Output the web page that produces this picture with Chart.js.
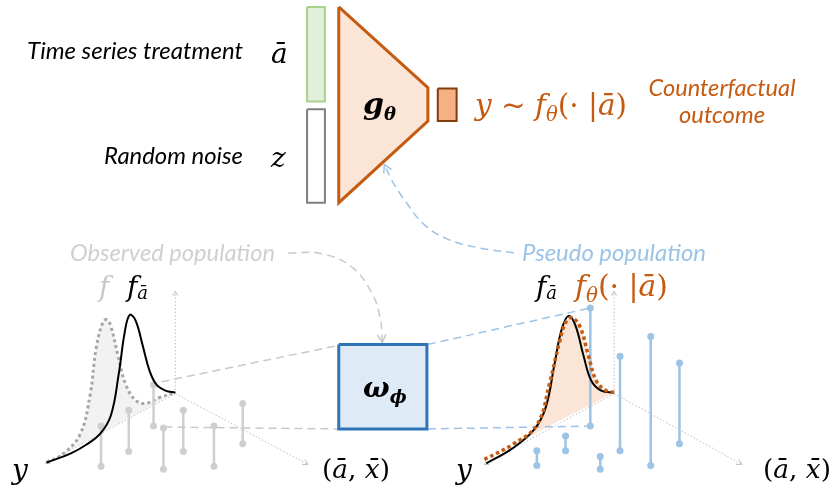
<!DOCTYPE html>
<html>
<head>
<meta charset="utf-8">
<script src="https://cdn.jsdelivr.net/npm/chart.js@4.4.1/dist/chart.umd.min.js"></script>
<style>
  html, body { margin: 0; padding: 0; background: #fff; }
  canvas { display: block; }
</style>
</head>
<body>
<canvas id="diagram" width="834" height="493"></canvas>
<script>
// colours
const ORANGE = '#c55a11';
const LIGHT_GRAY = '#c9c9c9';
const LIGHT_BLUE = '#9dc3e6';

// stems of the observed population (left) and pseudo population (right)
const leftStemX = [98, 126, 151, 161, 181, 212, 241];
const leftStemTop = [429, 413, 387, 431, 413, 429, 406];
const leftStemBottom = [470, 455, 429, 473, 455, 470, 447];

const rightStemX = [538, 567, 592, 602, 622, 653, 682];
const rightStemTop = [454, 439, 309, 460, 358, 338, 365];
const rightStemBottom = [469, 454, 429, 473, 454, 469, 447];

// density curves
const observedDensity = [[43, 466], [60, 457], [77, 437], [87, 397], [93, 350], [100, 323], [104, 321], [108, 328], [115, 357], [123, 387], [133, 403], [143, 406], [157, 400], [173, 395]];
const leftTargetDensity = [[43, 466], [67, 457], [83, 448], [97, 437], [108, 418], [116, 375], [122, 333], [127, 316], [133, 322], [140, 347], [147, 373], [154, 387], [163, 393], [173, 395]];
const rightTargetDensity = [[487, 467], [513, 452], [535, 433], [547, 410], [556, 365], [563, 331], [570, 317], [577, 327], [585, 357], [593, 383], [603, 393], [616, 395]];
const generatedDensity = [[485, 463], [513, 448], [538, 428], [551, 385], [561, 343], [568, 322], [574, 319], [582, 329], [590, 357], [598, 383], [608, 393], [616, 395]];

// boxes
const treatmentBar = [[306, 3], [324, 3], [324, 99], [306, 99], [306, 3]];
const noiseBar = [[306, 107], [324, 107], [324, 202], [306, 202], [306, 107]];
const generator = [[338, 3], [428, 85], [428, 119], [338, 202], [338, 3]];
const outcomeBar = [[438, 86], [457, 86], [457, 119], [438, 119], [438, 86]];
const weightBox = [[338, 346], [427, 346], [427, 432], [338, 432], [338, 346]];

// axes (origin, up, y end, (a,x) end)
const leftAxes = [[173, 396], [173, 292], [42, 467], [307, 468]];
const rightAxes = [[616, 396], [616, 292], [485, 468], [745, 468]];

// connectors
const observedArrow = [[287, 253], [322, 254], [352, 268], [372, 295], [380, 320], [382, 344]];
const pseudoArrow = [[515, 253], [480, 248], [448, 239], [424, 224], [405, 200], [392, 180], [384, 163]];
const grayGuides = [[[159, 384], [338, 347]], [[162, 430], [338, 432]]];
const blueGuides = [[[428, 346], [592, 309]], [[428, 432], [592, 429]]];

const MATH = '"DejaVu Serif"';
const SANS = 'Lato';

const labels = [
    { x: 243, y: 59, align: 'right', color: '#000', fit: 216, parts: [{ t: 'Time series treatment', f: 'italic', s: 22, fam: SANS }] },
    { x: 243, y: 164, align: 'right', color: '#000', fit: 139, parts: [{ t: 'Random noise', f: 'italic', s: 22, fam: SANS }] },
    { x: 271, y: 63, color: '#000', parts: [{ t: 'ā', f: 'italic', s: 28, fam: MATH }] },
    { x: 271, y: 167, color: '#000', parts: [{ t: 'z', f: 'italic', s: 28, fam: MATH }] },
    { x: 363, y: 114, color: '#000', parts: [{ t: 'g', f: 'italic bold', s: 30, fam: MATH }, { t: 'θ', f: 'italic bold', s: 18, fam: MATH, dy: 6 }] },
    { x: 475, y: 115, color: ORANGE, fit: 152, parts: [
        { t: 'y', f: 'italic', s: 24, fam: MATH }, { t: ' ~ ', f: '', s: 24, fam: MATH },
        { t: 'f', f: 'italic', s: 24, fam: MATH }, { t: 'θ', f: 'italic', s: 16, fam: MATH, dy: 5 },
        { t: '(· |', f: '', s: 24, fam: MATH }, { t: 'ā', f: 'italic', s: 24, fam: MATH }, { t: ')', f: '', s: 24, fam: MATH }] },
    { x: 722, y: 96, align: 'center', color: ORANGE, fit: 147, parts: [{ t: 'Counterfactual', f: 'italic', s: 22, fam: SANS }] },
    { x: 722, y: 123, align: 'center', color: ORANGE, fit: 86, parts: [{ t: 'outcome', f: 'italic', s: 22, fam: SANS }] },
    { x: 70, y: 261, color: '#d0d0d0', fit: 205, parts: [{ t: 'Observed population', f: 'italic', s: 22, fam: SANS }] },
    { x: 522, y: 261, color: LIGHT_BLUE, fit: 184, parts: [{ t: 'Pseudo population', f: 'italic', s: 22, fam: SANS }] },
    { x: 99, y: 296, color: '#c8c8c8', parts: [{ t: 'f', f: 'italic', s: 28, fam: MATH }] },
    { x: 127, y: 296, color: '#000', parts: [{ t: 'f', f: 'italic', s: 28, fam: MATH }, { t: 'ā', f: 'italic', s: 18, fam: MATH, dy: 3 }] },
    { x: 536, y: 296, color: '#000', parts: [{ t: 'f', f: 'italic', s: 28, fam: MATH }, { t: 'ā', f: 'italic', s: 18, fam: MATH, dy: 3 }] },
    { x: 575, y: 296, color: ORANGE, fit: 93, parts: [
        { t: 'f', f: 'italic', s: 24, fam: MATH }, { t: 'θ', f: 'italic', s: 16, fam: MATH, dy: 5 },
        { t: '(· |', f: '', s: 24, fam: MATH }, { t: 'ā', f: 'italic', s: 24, fam: MATH }, { t: ')', f: '', s: 24, fam: MATH }] },
    { x: 12, y: 479, color: '#000', parts: [{ t: 'y', f: 'italic', s: 28, fam: MATH }] },
    { x: 456, y: 479, color: '#000', parts: [{ t: 'y', f: 'italic', s: 28, fam: MATH }] },
    { x: 322, y: 478, color: '#000', fit: 68, parts: [
        { t: '(', f: '', s: 24, fam: MATH }, { t: 'ā', f: 'italic', s: 24, fam: MATH }, { t: ', ', f: '', s: 24, fam: MATH },
        { t: 'x̄', f: 'italic', s: 24, fam: MATH }, { t: ')', f: '', s: 24, fam: MATH }] },
    { x: 763, y: 478, color: '#000', fit: 68, parts: [
        { t: '(', f: '', s: 24, fam: MATH }, { t: 'ā', f: 'italic', s: 24, fam: MATH }, { t: ', ', f: '', s: 24, fam: MATH },
        { t: 'x̄', f: 'italic', s: 24, fam: MATH }, { t: ')', f: '', s: 24, fam: MATH }] },
    { x: 363, y: 397, color: '#000', parts: [{ t: 'ω', f: 'italic bold', s: 28, fam: MATH }, { t: 'ϕ', f: 'italic bold', s: 18, fam: MATH, dy: 6 }] }
];

function pts(list) {
    return list.map(p => ({ x: p[0], y: p[1] }));
}

function line(points, style) {
    return Object.assign({
        data: pts(points),
        showLine: true,
        pointRadius: 0,
        borderWidth: 1.5,
        borderColor: '#000',
        fill: false,
        tension: 0
    }, style);
}

// open chevron at the end of a connector, pointing along (from -> tip)
function arrowHead(from, tip, len, color, width) {
    const a = Math.atan2(tip[1] - from[1], tip[0] - from[0]);
    const w1 = [tip[0] - len * Math.cos(a - 0.5), tip[1] - len * Math.sin(a - 0.5)];
    const w2 = [tip[0] - len * Math.cos(a + 0.5), tip[1] - len * Math.sin(a + 0.5)];
    return line([w1, tip, w2], { borderColor: color, borderWidth: width || 1.5 });
}

function stems(xs, tops, bottoms, color) {
    return xs.map((x, i) => line([[x, tops[i]], [x, bottoms[i]]], {
        borderColor: color, borderWidth: 2.5,
        pointRadius: 3.5, pointBackgroundColor: color, pointBorderWidth: 0
    }));
}

function axes(a) {
    const style = { borderColor: '#bdbdbd', borderWidth: 1, borderDash: [1.5, 2] };
    return [
        line([a[0], a[1]], style), line([a[0], a[2]], style), line([a[0], a[3]], style),
        arrowHead(a[0], a[1], 5, '#bdbdbd', 1), arrowHead(a[0], a[2], 5, '#bdbdbd', 1), arrowHead(a[0], a[3], 6, '#bdbdbd', 1)
    ];
}

const layers = [];
// top: generator
layers.push(line(treatmentBar, { borderColor: '#a9d18e', borderWidth: 2, backgroundColor: '#e2efda', fill: 'shape', borderJoinStyle: 'miter' }));
layers.push(line(noiseBar, { borderColor: '#808080', borderWidth: 2, backgroundColor: '#fff', fill: 'shape', borderJoinStyle: 'miter' }));
layers.push(line(generator, { borderColor: ORANGE, borderWidth: 3, backgroundColor: '#fbe5d6', fill: 'shape', borderJoinStyle: 'miter' }));
layers.push(line(outcomeBar, { borderColor: '#843c0c', borderWidth: 2, backgroundColor: '#f4b183', fill: 'shape', borderJoinStyle: 'miter' }));

// connectors
layers.push(line(observedArrow, { borderColor: LIGHT_GRAY, borderDash: [8, 5], tension: 0.4 }));
layers.push(arrowHead(observedArrow[observedArrow.length - 2], observedArrow[observedArrow.length - 1], 9, LIGHT_GRAY));
layers.push(line(pseudoArrow, { borderColor: LIGHT_BLUE, borderDash: [8, 5], tension: 0.4 }));
layers.push(arrowHead(pseudoArrow[pseudoArrow.length - 2], pseudoArrow[pseudoArrow.length - 1], 9, LIGHT_BLUE));

// left panel
layers.push(line(observedDensity, { borderColor: '#a6a6a6', borderWidth: 3, borderDash: [3, 3], backgroundColor: '#f2f2f2', fill: 'shape', tension: 0.4 }));
layers.push(...axes(leftAxes));
layers.push(...stems(leftStemX, leftStemTop, leftStemBottom, '#cfcfcf'));
grayGuides.forEach(g => layers.push(line(g, { borderColor: LIGHT_GRAY, borderDash: [8, 5] })));
layers.push(line(leftTargetDensity, { borderColor: '#000', borderWidth: 2, tension: 0.4 }));

// right panel
layers.push(line(generatedDensity, { borderColor: 'rgba(0,0,0,0)', backgroundColor: '#fbe5d6', fill: 'shape', tension: 0.4 }));
layers.push(...axes(rightAxes));
layers.push(...stems(rightStemX, rightStemTop, rightStemBottom, LIGHT_BLUE));
blueGuides.forEach(g => layers.push(line(g, { borderColor: LIGHT_BLUE, borderDash: [8, 5] })));
layers.push(line(rightTargetDensity, { borderColor: '#000', borderWidth: 2, tension: 0.4 }));
layers.push(line(generatedDensity, { borderColor: ORANGE, borderWidth: 3.5, borderDash: [3.5, 3], tension: 0.4 }));

// weighting box
layers.push(line(weightBox, { borderColor: '#2e75b6', borderWidth: 3, backgroundColor: '#deebf7', fill: 'shape', borderJoinStyle: 'miter' }));

// first pushed is painted first
layers.forEach((d, i) => { d.order = layers.length - i; });

const textPlugin = {
    id: 'diagramText',
    afterDatasetsDraw(chart) {
        const ctx = chart.ctx;
        ctx.save();
        ctx.textBaseline = 'alphabetic';
        ctx.textAlign = 'left';
        labels.forEach(l => {
            const fontOf = (p, k) => `${p.f} ${(p.s * k).toFixed(2)}px ${p.fam}`.trim();
            const widthAt = k => l.parts.reduce((w, p) => { ctx.font = fontOf(p, k); return w + ctx.measureText(p.t).width; }, 0);
            const k = l.fit ? l.fit / widthAt(1) : 1;
            const total = widthAt(k);
            let x = l.x;
            if (l.align === 'right') x -= total;
            if (l.align === 'center') x -= total / 2;
            ctx.fillStyle = l.color;
            l.parts.forEach(p => {
                ctx.font = fontOf(p, k);
                ctx.fillText(p.t, x, l.y + (p.dy || 0) * k);
                x += ctx.measureText(p.t).width;
            });
        });
        ctx.restore();
    }
};

new Chart(document.getElementById('diagram').getContext('2d'), {
    type: 'scatter',
    data: { datasets: layers },
    options: {
        responsive: false,
        animation: false,
        events: [],
        layout: { padding: 0 },
        plugins: { legend: { display: false }, tooltip: { enabled: false } },
        scales: {
            x: { type: 'linear', min: 0, max: 834, display: false },
            y: { type: 'linear', min: 0, max: 493, reverse: true, display: false }
        }
    },
    plugins: [textPlugin]
});
</script>
</body>
</html>
